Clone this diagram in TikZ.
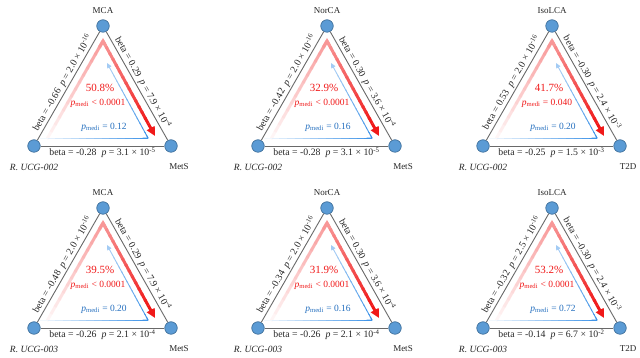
\documentclass[tikz,border=0pt]{standalone}
\usepackage{fontspec}
\setmainfont{Liberation Serif}
\usetikzlibrary{calc, arrows.meta, positioning}

\definecolor{nodeblue}{RGB}{91,155,213}
\definecolor{nodeline}{RGB}{65,113,156}
\definecolor{edgegray}{RGB}{105,105,105}
\definecolor{medred}{RGB}{240,25,25}
\definecolor{medblue}{RGB}{50,140,230}
\definecolor{textblue}{RGB}{35,110,190}

\tikzset{
  vertex/.style={
    circle, fill=nodeblue, draw=nodeline, line width=0.7pt,
    minimum size=12.5pt, inner sep=0pt
  },
  linkline/.style={draw=edgegray, line width=0.9pt},
  edgelab/.style={font=\fontsize{9.8}{10}\selectfont, inner sep=1.3pt, text=black!85},
  varlab/.style={font=\fontsize{9}{10}\selectfont, inner sep=0pt, text=black!85},
  pctlab/.style={font=\fontsize{11}{12}\selectfont, text=medred, inner sep=0pt},
  redlab/.style={font=\fontsize{9.5}{10}\selectfont, text=medred, inner sep=0pt},
  bluelab/.style={font=\fontsize{9.5}{10}\selectfont, text=textblue, inner sep=0pt},
  redhead/.style={draw=medred, fill=medred, line width=3pt, -{Triangle[length=9pt,width=8.5pt]}},
  bluehead/.style={draw=medblue!45!white, line width=0.9pt, -{Triangle[length=5pt,width=4.5pt]}}
}

\newcommand\stat[3]{beta = #1\enspace\textit{p} = #2 × 10\textsuperscript{#3}}
\newcommand\pmedi{\textit{p}\textsubscript{medi}}

% line drawn in short pieces, colour going from #3 to #4 percent
\newcommand\fadeline[6]{%
  \foreach \k in {1,...,14}{%
    \pgfmathsetmacro\ta{(\k-1)/14}%
    \pgfmathsetmacro\tb{min(1,(\k+0.25)/14)}%
    \pgfmathsetmacro\mx{#3+(#4-#3)*(\k-0.5)/14}%
    \draw[line width=#6, draw=#5!\mx!white] ($(#1)!\ta!(#2)$) -- ($(#1)!\tb!(#2)$);
  }}

% one triangle: top, right, left name, three edge texts, share, red p, blue p
\newcommand\triad[9]{%
  \node[vertex] (T) at (0,0) {};
  \node[vertex] (L) at (-69,-120) {};
  \node[vertex] (R) at (68,-120) {};
  \node[varlab, above=6pt of T] (Tn) {#1};
  \node[varlab, below=11pt of R, xshift=8pt] (Rn) {#2};
  \node[varlab, below=11pt of L] (Ln) {\fontsize{9.5}{10}\selectfont\itshape #3};
  \draw[linkline] (L) -- node[edgelab, sloped, above] (Le) {#4} (T);
  \draw[linkline] (T) -- node[edgelab, sloped, above] (Re) {#5} (R);
  \draw[linkline] (L) -- node[edgelab, below] (Be) {#6} (R);
  % red path
  \coordinate (ra) at (0,-15);
  \coordinate (rs) at (-56,-113);
  \coordinate (rt) at (52,-110);
  \coordinate (rk) at ($(ra)!0.87!(rt)$);
  \fadeline{rs}{ra}{3}{45}{medred}{3pt}
  \fadeline{ra}{rk}{45}{100}{medred}{3pt}
  \draw[draw=medred!45!white, line width=3pt] ($(ra)!0.06!(rs)$) -- (ra) -- ($(ra)!0.06!(rk)$);
  \draw[redhead] (rk) -- (rt);
  % blue path
  \coordinate (bs) at (-63,-112);
  \coordinate (bc) at (45,-112);
  \coordinate (bt) at (4,-37);
  \coordinate (bk) at ($(bc)!0.88!(bt)$);
  \fadeline{bs}{bc}{3}{95}{medblue}{0.9pt}
  \fadeline{bc}{bk}{95}{45}{medblue}{0.9pt}
  \draw[draw=medblue!95!white, line width=0.9pt] ($(bc)!0.05!(bs)$) -- (bc) -- ($(bc)!0.05!(bk)$);
  \draw[bluehead] (bk) -- (bt);
  % texts
  \node[pctlab] (pc) at (-3,-62) {#7};
  \node[redlab] (rp) at (-5,-77) {\pmedi{} #8};
  \node[bluelab] (bp) at (1,-101) {\pmedi{} = #9};
}

\begin{document}
\begin{tikzpicture}[x=1pt, y=1pt]
\useasboundingbox (0,0) rectangle (640,358);

\begin{scope}[shift={(103,332)}, name prefix=a-]
\triad{MCA}{MetS}{R. UCG-002}{\stat{-0.66}{2.0}{-16}}{\stat{0.29}{7.9}{-4}}{\stat{-0.28}{3.1}{-5}}{50.8\%}{< 0.0001}{0.12}
\end{scope}
\begin{scope}[shift={(327,332)}, name prefix=b-]
\triad{NorCA}{MetS}{R. UCG-002}{\stat{-0.42}{2.0}{-16}}{\stat{0.30}{3.6}{-4}}{\stat{-0.28}{3.1}{-5}}{32.9\%}{< 0.0001}{0.16}
\end{scope}
\begin{scope}[shift={(552,332)}, name prefix=c-]
\triad{IsoLCA}{T2D}{R. UCG-002}{\stat{0.53}{2.0}{-16}}{\stat{-0.30}{2.4}{-3}}{\stat{-0.25}{1.5}{-3}}{41.7\%}{= 0.040}{0.20}
\end{scope}

\begin{scope}[shift={(103,150)}, name prefix=d-]
\triad{MCA}{MetS}{R. UCG-003}{\stat{-0.48}{2.0}{-16}}{\stat{0.29}{7.9}{-4}}{\stat{-0.26}{2.1}{-4}}{39.5\%}{< 0.0001}{0.20}
\end{scope}
\begin{scope}[shift={(327,150)}, name prefix=e-]
\triad{NorCA}{MetS}{R. UCG-003}{\stat{-0.34}{2.0}{-16}}{\stat{0.30}{3.6}{-4}}{\stat{-0.26}{2.1}{-4}}{31.9\%}{< 0.0001}{0.16}
\end{scope}
\begin{scope}[shift={(552,150)}, name prefix=f-]
\triad{IsoLCA}{T2D}{R. UCG-003}{\stat{-0.32}{2.5}{-16}}{\stat{-0.30}{2.4}{-3}}{\stat{-0.14}{6.7}{-2}}{53.2\%}{< 0.0001}{0.72}
\end{scope}
\end{tikzpicture}
\end{document}
